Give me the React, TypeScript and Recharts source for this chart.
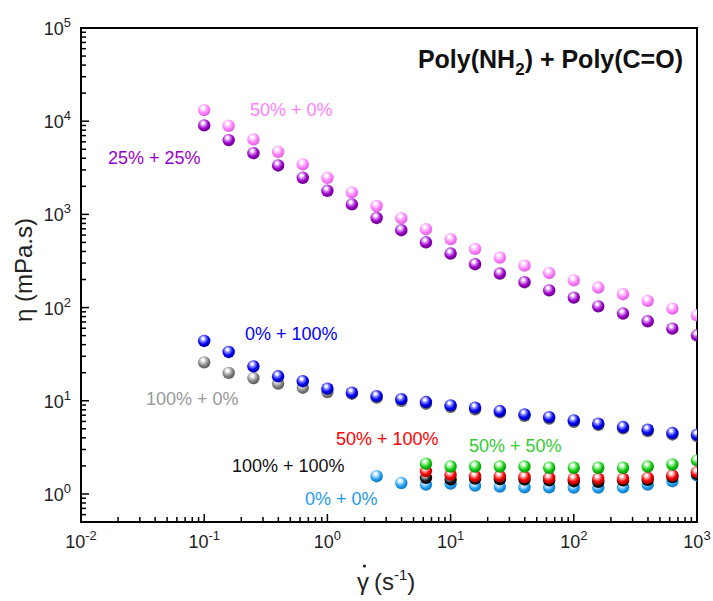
import React from 'react';
import { ScatterChart, Scatter, XAxis, YAxis, Customized } from 'recharts';

// Shear rates (s^-1), 5 points per decade
const shearRates = [0.1, 0.158, 0.251, 0.398, 0.631, 1, 1.58, 2.51, 3.98, 6.31, 10, 15.8, 25.1, 39.8, 63.1, 100, 158, 251, 398, 631, 1000];

// Viscosity (mPa.s) series
const eta50_0 = [13150, 8930, 6380, 4690, 3440, 2470, 1720, 1230, 910, 693, 542, 426, 344, 282, 235, 196, 164, 139, 118, 97.5, 82.6];
const eta25_25 = [9020, 6270, 4540, 3350, 2470, 1790, 1280, 916, 676, 502, 380, 292, 232, 187, 153, 128, 103, 86.3, 71.3, 59.4, 50.4];
const eta0_100 = [43.8, 33.4, 23.4, 18.3, 16.2, 13.5, 12.2, 11.2, 10.4, 9.68, 8.93, 8.43, 7.75, 7.14, 6.68, 6.16, 5.68, 5.22, 4.89, 4.5, 4.32];
const eta100_0 = [25.8, 19.9, 17.5, 15.3, 13.8, 12.4, 11.9, 10.8, 10.0, 9.3, 8.6, 8.1, 7.5, 6.9, 6.45, 5.95, 5.5, 5.05, 4.72, 4.35, 4.18];
// series starting at 6.31 s^-1
const eta50_100 = [1.76, 1.61, 1.55, 1.55, 1.52, 1.49, 1.46, 1.46, 1.46, 1.49, 1.58, 1.71];
const eta50_50 = [2.11, 1.97, 1.97, 1.97, 1.97, 1.91, 1.91, 1.91, 1.91, 1.97, 2.07, 2.29];
const eta100_100 = [1.49, 1.43, 1.46, 1.44, 1.43, 1.4, 1.37, 1.35, 1.4, 1.42, 1.52, 1.64];
// series starting at 2.51 s^-1
const eta0_0 = [1.55, 1.31, 1.26, 1.29, 1.23, 1.2, 1.18, 1.18, 1.17, 1.17, 1.18, 1.26, 1.37, 1.58];

const xMajorTicks = [0.01, 0.1, 1, 10, 100, 1000];
const yMajorTicks = [1, 10, 100, 1000, 10000, 100000];
const minorMultipliers = [2, 3, 4, 5, 6, 7, 8, 9];

const buildTicks = (majors: number[], decades: number[], lo: number, hi: number) => {
  const t: number[] = [...majors];
  decades.forEach((d) => minorMultipliers.forEach((m) => {
    const v = d * m;
    if (v >= lo && v < hi) t.push(v);
  }));
  return t.sort((a, b) => a - b);
};
const xTicks = buildTicks(xMajorTicks, [0.01, 0.1, 1, 10, 100], 0.01, 1000);
const yTicks = buildTicks(yMajorTicks, [0.1, 1, 10, 100, 1000, 10000], 0.5, 100000);

const toPoints = (ys: number[]) => {
  const start = shearRates.length - ys.length;
  return ys.map((y, i) => ({ x: shearRates[start + i], y }));
};

const FONT = '"Liberation Sans", Arial, sans-serif';

type Sp = { key: string; name: string; data: number[]; base: string; light: string; dark: string };
const seriesList: Sp[] = [
  { key: 'lb', name: '0% + 0%', data: eta0_0, base: '#1E9CF0', light: '#B0DEFF', dark: '#0F6EB0' },
  { key: 'bk', name: '100% + 100%', data: eta100_100, base: '#151515', light: '#9A9A9A', dark: '#000000' },
  { key: 'rd', name: '50% + 100%', data: eta50_100, base: '#F00000', light: '#FFA0A0', dark: '#A00000' },
  { key: 'gn', name: '50% + 50%', data: eta50_50, base: '#12C812', light: '#A0F5A0', dark: '#088008' },
  { key: 'gy', name: '100% + 0%', data: eta100_0, base: '#808080', light: '#D0D0D0', dark: '#505050' },
  { key: 'bl', name: '0% + 100%', data: eta0_100, base: '#0000F0', light: '#9090FF', dark: '#000090' },
  { key: 'pu', name: '25% + 25%', data: eta25_25, base: '#9A00C2', light: '#DA90F5', dark: '#5E0080' },
  { key: 'pk', name: '50% + 0%', data: eta50_0, base: '#FF7DFF', light: '#FFD0FF', dark: '#D05CD0' },
];

const makeSphere = (s: Sp) => (props: any) => {
  const { cx, cy } = props;
  if (cx == null || cy == null) return <g />;
  const id = `grad-${s.key}`;
  return (
    <g>
      <defs>
        <radialGradient id={id} cx="0.42" cy="0.38" r="0.68" fx="0.4" fy="0.3">
          <stop offset="0" stopColor="#FFFFFF" />
          <stop offset="0.12" stopColor="#FFFFFF" stopOpacity={0.95} />
          <stop offset="0.3" stopColor={s.light} />
          <stop offset="0.62" stopColor={s.base} />
          <stop offset="1" stopColor={s.dark} />
        </radialGradient>
      </defs>
      <circle cx={cx} cy={cy} r={6.2} fill={`url(#${id})`} />
    </g>
  );
};

const isMajor = (v: number) => Math.abs(Math.log10(v) - Math.round(Math.log10(v))) < 1e-6;
const MAJ = 8;
const MIN = 5;
const TW = 1.5;
const INK = '#000000';

const PowerLabel = ({ x, y, v, anchor }: { x: number; y: number; v: number; anchor: 'middle' | 'end' }) => (
  <text x={x} y={y} textAnchor={anchor} fontSize={18} fontFamily={FONT} fill="#222">
    <tspan>10</tspan>
    <tspan dy={-8} fontSize={13}>{String(Math.round(Math.log10(v)))}</tspan>
  </text>
);

const BottomTick = (props: any) => {
  const x = Number(props.x);
  const y = Number(props.y);
  const v = props.payload.value;
  const major = isMajor(v);
  const len = major ? MAJ : MIN;
  return (
    <g>
      <rect x={x - TW / 2} y={y - len} width={TW} height={len} fill={INK} />
      {major && <PowerLabel x={x} y={y + 26} v={v} anchor="middle" />}
    </g>
  );
};
const TopTick = (props: any) => {
  const x = Number(props.x);
  const y = Number(props.y);
  const len = isMajor(props.payload.value) ? MAJ : MIN;
  return <rect x={x - TW / 2} y={y} width={TW} height={len} fill={INK} />;
};
const LeftTick = (props: any) => {
  const x = Number(props.x);
  const y = Number(props.y);
  const v = props.payload.value;
  const major = isMajor(v);
  const len = major ? MAJ : MIN;
  return (
    <g>
      <rect x={x} y={y - TW / 2} width={len} height={TW} fill={INK} />
      {major && <PowerLabel x={x - 10} y={y + 7} v={v} anchor="end" />}
    </g>
  );
};
const RightTick = (props: any) => {
  const x = Number(props.x);
  const y = Number(props.y);
  const len = isMajor(props.payload.value) ? MAJ : MIN;
  return <rect x={x - len} y={y - TW / 2} width={len} height={TW} fill={INK} />;
};

const annotations = [
  { text: '50% + 0%', x: 250, y: 116, color: '#FF80FF' },
  { text: '25% + 25%', x: 108, y: 164, color: '#9900CC' },
  { text: '0% + 100%', x: 245, y: 340, color: '#0000FF' },
  { text: '100% + 0%', x: 146, y: 405, color: '#999999' },
  { text: '50% + 100%', x: 336, y: 445, color: '#FF0000' },
  { text: '50% + 50%', x: 469, y: 452, color: '#33CC33' },
  { text: '100% + 100%', x: 232, y: 472, color: '#111111' },
  { text: '0% + 0%', x: 305, y: 505, color: '#1E9BF0' },
];

// plot frame (chart margins + axis sizes)
const PLOT = { left: 81, top: 28, right: 697, bottom: 522 };
const FW = 2;

const Overlay = () => {
  const w = PLOT.right - PLOT.left;
  const h = PLOT.bottom - PLOT.top;
  return (
    <g>
      <rect x={PLOT.left - FW / 2} y={PLOT.top - FW / 2} width={w + FW} height={FW} fill={INK} />
      <rect x={PLOT.left - FW / 2} y={PLOT.bottom - FW / 2} width={w + FW} height={FW} fill={INK} />
      <rect x={PLOT.left - FW / 2} y={PLOT.top - FW / 2} width={FW} height={h + FW} fill={INK} />
      <rect x={PLOT.right - FW / 2} y={PLOT.top - FW / 2} width={FW} height={h + FW} fill={INK} />
      {annotations.map((a) => (
        <text key={a.text} x={a.x} y={a.y} fontSize={18} fontFamily={FONT} fill={a.color}>{a.text}</text>
      ))}
      <text x={683} y={68} textAnchor="end" fontSize={25} fontWeight="bold" fontFamily={FONT} fill="#111">
        <tspan>Poly(NH</tspan>
        <tspan dy={7} fontSize={17}>2</tspan>
        <tspan dy={-7}>) + Poly(C=O)</tspan>
      </text>
      <text x={0} y={0} transform="translate(32,270) rotate(-90)" textAnchor="middle" fontSize={24} fontFamily={FONT} fill="#222">
        η (mPa.s)
      </text>
      <text x={357} y={590} fontSize={24} fontFamily={FONT} fill="#222">γ</text>
      <circle cx={364.5} cy={566} r={1.6} fill="#222" />
      <text x={374} y={590} fontSize={24} fontFamily={FONT} fill="#222">
        <tspan>(s</tspan>
        <tspan dy={-10} fontSize={15}>-1</tspan>
        <tspan dy={10}>)</tspan>
      </text>
    </g>
  );
};

export default function App() {
  return (
    <div style={{ position: 'absolute', left: 0, top: 0, width: 713, height: 601, background: '#fff' }}>
      <ScatterChart width={713} height={601} margin={{ top: 28, right: 16, bottom: 0, left: 0 }}>
        <XAxis
          xAxisId="b" dataKey="x" type="number" scale="log" domain={[0.01, 1000]} allowDataOverflow
          ticks={xTicks} interval={0} tickSize={0} tickMargin={0} tickLine={false}
          axisLine={false} tick={BottomTick} height={79}
        />
        <XAxis
          xAxisId="t" orientation="top" dataKey="x" type="number" scale="log" domain={[0.01, 1000]} allowDataOverflow
          ticks={xTicks} interval={0} tickSize={0} tickMargin={0} tickLine={false}
          axisLine={false} tick={TopTick} height={0}
        />
        <YAxis
          yAxisId="l" dataKey="y" type="number" scale="log" domain={[0.5, 100000]} allowDataOverflow
          ticks={yTicks} interval={0} tickSize={0} tickMargin={0} tickLine={false}
          axisLine={false} tick={LeftTick} width={81}
        />
        <YAxis
          yAxisId="r" orientation="right" dataKey="y" type="number" scale="log" domain={[0.5, 100000]} allowDataOverflow
          ticks={yTicks} interval={0} tickSize={0} tickMargin={0} tickLine={false}
          axisLine={false} tick={RightTick} width={0}
        />
        {seriesList.map((s) => (
          <Scatter
            key={s.key} name={s.name} data={toPoints(s.data)} xAxisId="b" yAxisId="l"
            shape={makeSphere(s)} isAnimationActive={false}
          />
        ))}
        <Customized component={Overlay} />
      </ScatterChart>
    </div>
  );
}
